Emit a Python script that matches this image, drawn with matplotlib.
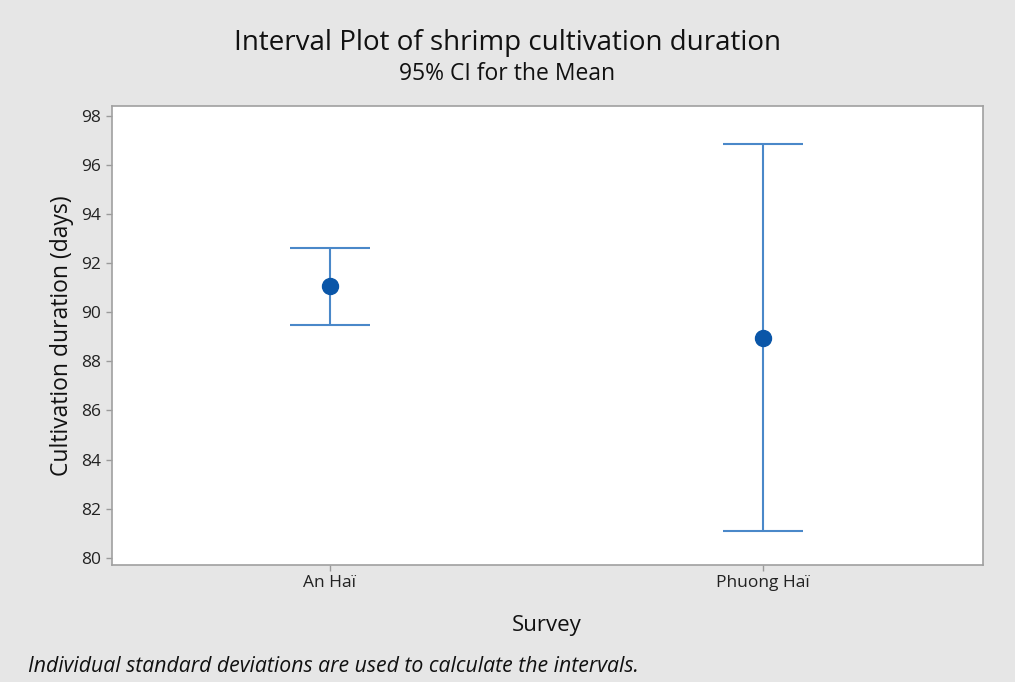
import matplotlib.pyplot as plt

# Survey sites with mean cultivation duration and 95% CI bounds (days)
sites = ['An Haï', 'Phuong Haï']
means = [91.05, 88.95]
ci_lower = [89.5, 81.1]
ci_upper = [92.6, 96.85]
y_ticks = [80, 82, 84, 86, 88, 90, 92, 94, 96, 98]

plt.rcParams['font.family'] = ['Open Sans', 'DejaVu Sans']

bg = '#e6e6e6'
line_color = '#4a88c9'
dot_color = '#0a56a8'

fig = plt.figure(figsize=(10.15, 6.82), dpi=100, facecolor=bg)
ax = fig.add_axes([0.110, 0.172, 0.858, 0.673])
ax.set_facecolor('white')

x = list(range(len(sites)))
err_low = [m - lo for m, lo in zip(means, ci_lower)]
err_high = [hi - m for m, hi in zip(means, ci_upper)]
ax.errorbar(x, means, yerr=[err_low, err_high], fmt='none',
            ecolor=line_color, elinewidth=1.5, capsize=29, capthick=1.5)
ax.plot(x, means, 'o', color=dot_color, markersize=11.5, zorder=3)

ax.set_xlim(-0.503, 1.506)
ax.set_ylim(79.72, 98.41)
ax.set_xticks(x)
ax.set_xticklabels(sites, fontsize=12.5)
ax.set_yticks(y_ticks)
ax.tick_params(axis='y', labelsize=12.5)
ax.tick_params(colors='#9a9a9a', labelcolor='#222222', length=4, width=1)

for side in ['left', 'bottom', 'right', 'top']:
    ax.spines[side].set_color('#a0a0a0')
    ax.spines[side].set_linewidth(1.2)

ax.set_ylabel('Cultivation duration (days)', fontsize=16.5, color='#111111', labelpad=5)
ax.set_xlabel('Survey', fontsize=16, color='#111111', labelpad=17)

fig.text(0.5, 0.937, 'Interval Plot of shrimp cultivation duration',
         ha='center', va='center', fontsize=20, color='#111111')
fig.text(0.5, 0.891, '95% CI for the Mean',
         ha='center', va='center', fontsize=16.5, color='#111111')
fig.text(0.028, 0.023, 'Individual standard deviations are used to calculate the intervals.',
         ha='left', va='center', fontsize=15.3, style='italic', color='#111111')

fig.savefig('out.png', dpi=100, facecolor=bg)
